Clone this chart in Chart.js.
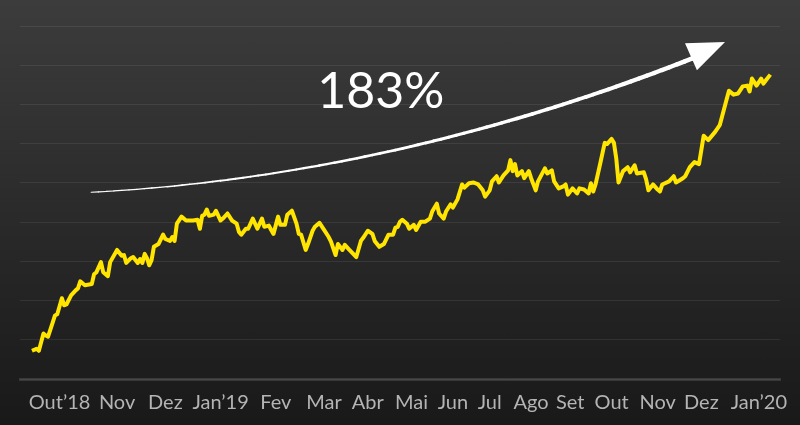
<!DOCTYPE html>
<html lang="pt">
<head>
  <meta charset="UTF-8">
  <title>Cotação</title>
  <script src="https://cdn.jsdelivr.net/npm/chart.js"></script>
  <style>
    body { margin: 0; background: #1a1a1a; }
    #wrap { width: 800px; height: 425px; background: linear-gradient(#3c3c3c, #191919); }
  </style>
</head>
<body>
  <div id="wrap">
    <canvas id="stockChart" width="800" height="425"></canvas>
  </div>

<script>
  // trading day index since start of series
  const days = [0, 2, 3, 5, 6, 7, 9, 10, 11, 13, 14, 15, 17, 19, 20, 21, 23, 26, 27, 28,
    30, 31, 33, 34, 37, 39, 40, 41, 43, 44, 46, 47, 48, 49, 50, 51, 52, 53, 55, 57,
    58, 60, 61, 62, 63, 65, 67, 70, 72, 73, 74, 75, 76, 77, 79, 80, 82, 83, 85, 87,
    89, 90, 91, 93, 94, 96, 98, 100, 101, 103, 104, 105, 107, 108, 110, 111, 113, 115, 116, 117,
    119, 120, 122, 123, 125, 127, 129, 130, 132, 133, 135, 136, 138, 141, 143, 144, 146, 148, 149, 151,
    153, 155, 157, 158, 159, 160, 161, 163, 164, 166, 167, 169, 171, 173, 174, 176, 177, 179, 180, 182,
    183, 185, 187, 188, 190, 192, 194, 196, 197, 199, 200, 202, 203, 205, 207, 208, 209, 210, 211, 213,
    214, 216, 217, 219, 220, 223, 224, 226, 227, 229, 231, 232, 233, 235, 237, 238, 240, 242, 243, 244,
    245, 247, 249, 250, 252, 253, 254, 255, 257, 259, 260, 262, 263, 266, 267, 268, 270, 272, 273, 274,
    277, 279, 280, 283, 284, 286, 288, 290, 292, 294, 297, 299, 303, 305, 307, 309, 311, 312, 313, 315,
    317, 318, 319, 321]

  const prices = [37.2, 37.7, 37.2, 41.6, 41.1, 40.8, 44.4, 46.2, 46.5, 50.6, 48.8, 49.0, 51.3, 52.6, 53.1, 54.9, 53.9, 54.2, 56.7, 57.2,
    59.8, 57.2, 56.2, 59.8, 62.9, 61.4, 61.6, 59.6, 60.8, 61.1, 59.6, 60.6, 59.6, 61.9, 60.8, 59.0, 60.3, 63.7, 64.4, 66.8,
    65.7, 65.2, 66.2, 65.2, 69.6, 71.4, 70.4, 70.4, 70.6, 68.3, 71.6, 71.9, 73.2, 71.6, 71.9, 72.9, 70.4, 70.9, 72.2, 70.4,
    69.6, 67.5, 66.8, 68.3, 68.3, 70.9, 68.3, 70.9, 68.8, 69.1, 68.0, 67.0, 71.4, 69.3, 69.3, 71.9, 72.9, 69.6, 67.0, 66.8,
    62.9, 64.4, 67.8, 68.8, 69.8, 68.0, 66.2, 65.0, 61.6, 64.4, 62.9, 64.2, 62.9, 61.1, 65.2, 66.0, 67.8, 67.0, 65.2, 63.7,
    64.4, 66.8, 66.8, 68.6, 68.8, 70.1, 70.6, 69.6, 68.3, 69.3, 68.0, 70.1, 70.1, 70.9, 72.7, 74.7, 72.2, 70.9, 72.7, 74.5,
    73.7, 75.8, 79.6, 78.8, 79.9, 80.1, 79.6, 78.1, 76.5, 78.1, 80.4, 81.7, 80.1, 81.9, 83.2, 85.8, 83.0, 84.8, 81.9, 83.0,
    81.2, 83.0, 81.2, 78.1, 80.4, 83.7, 82.4, 83.2, 80.4, 78.6, 79.1, 79.6, 77.0, 78.6, 77.3, 78.6, 78.3, 77.3, 79.9, 77.8,
    79.6, 84.8, 90.2, 89.9, 91.2, 90.2, 86.3, 80.1, 83.0, 84.0, 82.7, 84.5, 82.4, 82.7, 80.9, 78.1, 79.6, 78.3, 77.8, 79.6,
    80.4, 81.7, 80.1, 81.2, 81.7, 84.0, 85.3, 84.8, 92.0, 90.9, 93.0, 94.7, 103.5, 102.5, 102.8, 104.6, 104.8, 103.3, 106.6, 104.8,
    106.6, 105.3, 106.1, 107.6]

  const monthTicks = [12, 37, 58, 82, 106, 127, 146, 165, 183, 199, 217, 234, 252, 272, 291, 316]
  const monthLabels = ["Out’18", "Nov", "Dez", "Jan’19", "Fev", "Mar", "Abr", "Mai", "Jun", "Jul", "Ago", "Set", "Out", "Nov", "Dez", "Jan’20"]

  // arrow annotation, in data units: start, control, end, tip, two wings
  const arrowCurve = [[25.7, 77.6], [157.8, 81.7], [290.4, 112.5]]
  const arrowHead = [[301.3, 115.9], [283.9, 115.6], [289.1, 108.7]]
  const gainLabel = "183%"
  const gainAt = [151.7, 99.2]

  const arrowPlugin = {
    id: 'arrow',
    afterDatasetsDraw(chart) {
      const ctx = chart.ctx
      const xs = chart.scales.x, ys = chart.scales.y
      const p = arrowCurve.map(d => [xs.getPixelForValue(d[0]), ys.getPixelForValue(d[1])])
      ctx.save()
      ctx.strokeStyle = '#ffffff'
      ctx.fillStyle = '#ffffff'
      ctx.lineCap = 'round'
      const n = 80
      let prev = p[0]
      for (let i = 1; i <= n; i++) {
        const t = i / n
        const a = (1 - t) * (1 - t), b = 2 * t * (1 - t), c = t * t
        const pt = [a * p[0][0] + b * p[1][0] + c * p[2][0], a * p[0][1] + b * p[1][1] + c * p[2][1]]
        ctx.lineWidth = 1 + 3.5 * t
        ctx.beginPath()
        ctx.moveTo(prev[0], prev[1])
        ctx.lineTo(pt[0], pt[1])
        ctx.stroke()
        prev = pt
      }
      const h = arrowHead.map(d => [xs.getPixelForValue(d[0]), ys.getPixelForValue(d[1])])
      ctx.beginPath()
      ctx.moveTo(h[0][0], h[0][1])
      ctx.lineTo(h[1][0], h[1][1])
      ctx.lineTo(h[2][0], h[2][1])
      ctx.closePath()
      ctx.fill()

      ctx.font = '50px Lato'
      ctx.textAlign = 'center'
      ctx.textBaseline = 'alphabetic'
      ctx.fillText(gainLabel, xs.getPixelForValue(gainAt[0]), ys.getPixelForValue(gainAt[1]))
      ctx.restore()
    }
  }

  new Chart(document.getElementById("stockChart"), {
    type: 'line',
    data: {
      datasets: [{
        data: days.map((d, i) => ({ x: d, y: prices[i] })),
        borderColor: '#ffe500',
        borderWidth: 4,
        borderJoinStyle: 'round',
        pointRadius: 0,
        tension: 0
      }]
    },
    options: {
      responsive: false,
      animation: false,
      layout: { padding: { left: 20, right: 20, top: 26, bottom: 6 } },
      plugins: { legend: { display: false }, tooltip: { enabled: false } },
      scales: {
        x: {
          type: 'linear',
          min: -5.2,
          max: 325.2,
          afterBuildTicks: scale => { scale.ticks = monthTicks.map(v => ({ value: v })) },
          ticks: {
            autoSkip: false,
            maxRotation: 0,
            padding: 4,
            color: '#b4b4b4',
            font: { family: 'Lato', size: 20 },
            callback: (v, i) => monthLabels[i]
          },
          grid: { display: false },
          border: { display: true, color: 'rgba(255,255,255,0.12)', width: 3 }
        },
        y: {
          min: 30,
          max: 120,
          ticks: { display: false, stepSize: 10 },
          grid: { color: 'rgba(255,255,255,0.08)', drawTicks: false },
          border: { display: false }
        }
      }
    },
    plugins: [arrowPlugin]
  })
</script>
</body>
</html>
